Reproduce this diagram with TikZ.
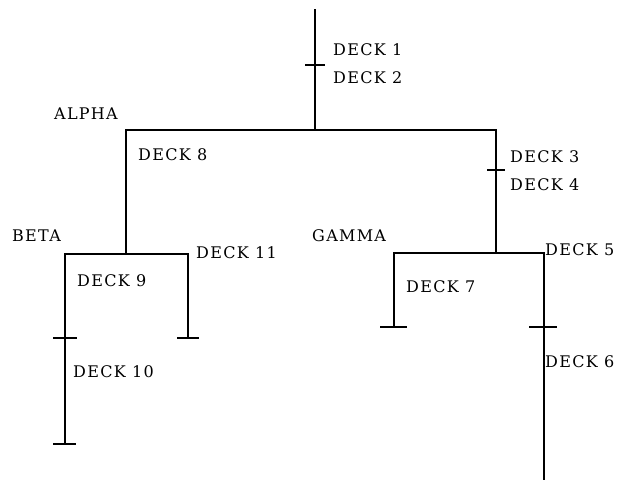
\documentclass[tikz,border=0pt]{standalone}
\usepackage{fontspec}
\newfontfamily\deckfont[LetterSpace=8]{DejaVu Serif}
\usepackage{tikz}
\usetikzlibrary{positioning,calc}
\tikzset{
  deckln/.style={line width=1.4pt,line cap=rect},
  tickln/.style={line width=1.2pt},
  lbl/.style={anchor=west,inner sep=0pt,font=\deckfont\fontsize{16}{18}\selectfont},
}
\begin{document}
\begin{tikzpicture}[x=1pt,y=-1pt]
  \useasboundingbox (0,0) rectangle (626,480);
  % junctions and ends
  \coordinate (top) at (315,10);
  \coordinate (t12) at (315,65);
  \coordinate (root) at (315,130);
  \coordinate (alphaL) at (126,130);
  \coordinate (alphaR) at (496,130);
  \coordinate (t34) at (496,170);
  \coordinate (gammaJ) at (496,253);
  \coordinate (betaJ) at (126,254);
  \coordinate (betaL) at (65,254);
  \coordinate (betaR) at (188,254);
  \coordinate (t910) at (65,338);
  \coordinate (end10) at (65,444);
  \coordinate (end11) at (188,338);
  \coordinate (gammaL) at (394,253);
  \coordinate (gammaR) at (544,253);
  \coordinate (end7) at (394,327);
  \coordinate (t56) at (544,327);
  \coordinate (end6) at (544,480);
  % tree lines
  \draw[deckln] (top) -- (root);
  \draw[deckln] (alphaL) -- (alphaR);
  \draw[deckln] (alphaL) -- (betaJ);
  \draw[deckln] (alphaR) -- (gammaJ);
  \draw[deckln] (betaL) -- (betaR);
  \draw[deckln] (betaL) -- (end10);
  \draw[deckln] (betaR) -- (end11);
  \draw[deckln] (gammaL) -- (gammaR);
  \draw[deckln] (gammaL) -- (end7);
  \draw[deckln,line cap=butt] (gammaR) -- (end6);
  % deck boundaries
  \draw[tickln] ([xshift=-10pt]t12) -- ([xshift=10pt]t12);
  \draw[tickln] ([xshift=-9pt]t34) -- ([xshift=9pt]t34);
  \draw[tickln] ([xshift=-12pt]t910) -- ([xshift=12pt]t910);
  \draw[tickln] ([xshift=-12pt]end10) -- ([xshift=11pt]end10);
  \draw[tickln] ([xshift=-11pt]end11) -- ([xshift=11pt]end11);
  \draw[tickln] ([xshift=-14pt]end7) -- ([xshift=13pt]end7);
  \draw[tickln] ([xshift=-15pt]t56) -- ([xshift=13pt]t56);
  % labels
  \node[lbl] (d1) at (333,50) {DECK 1};
  \node[lbl] (d2) at (333,78) {DECK 2};
  \node[lbl] (alpha) at (54,114) {ALPHA};
  \node[lbl] (d8) at (138,155) {DECK 8};
  \node[lbl] (d3) at (510,157) {DECK 3};
  \node[lbl] (d4) at (510,185) {DECK 4};
  \node[lbl] (beta) at (12,236) {BETA};
  \node[lbl] (d11) at (196,253) {DECK 11};
  \node[lbl] (d9) at (77,281) {DECK 9};
  \node[lbl] (d10) at (73,372) {DECK 10};
  \node[lbl] (gamma) at (312,236) {GAMMA};
  \node[lbl] (d5) at (545,250) {DECK 5};
  \node[lbl] (d7) at (406,287) {DECK 7};
  \node[lbl] (d6) at (545,362) {DECK 6};
\end{tikzpicture}
\end{document}
